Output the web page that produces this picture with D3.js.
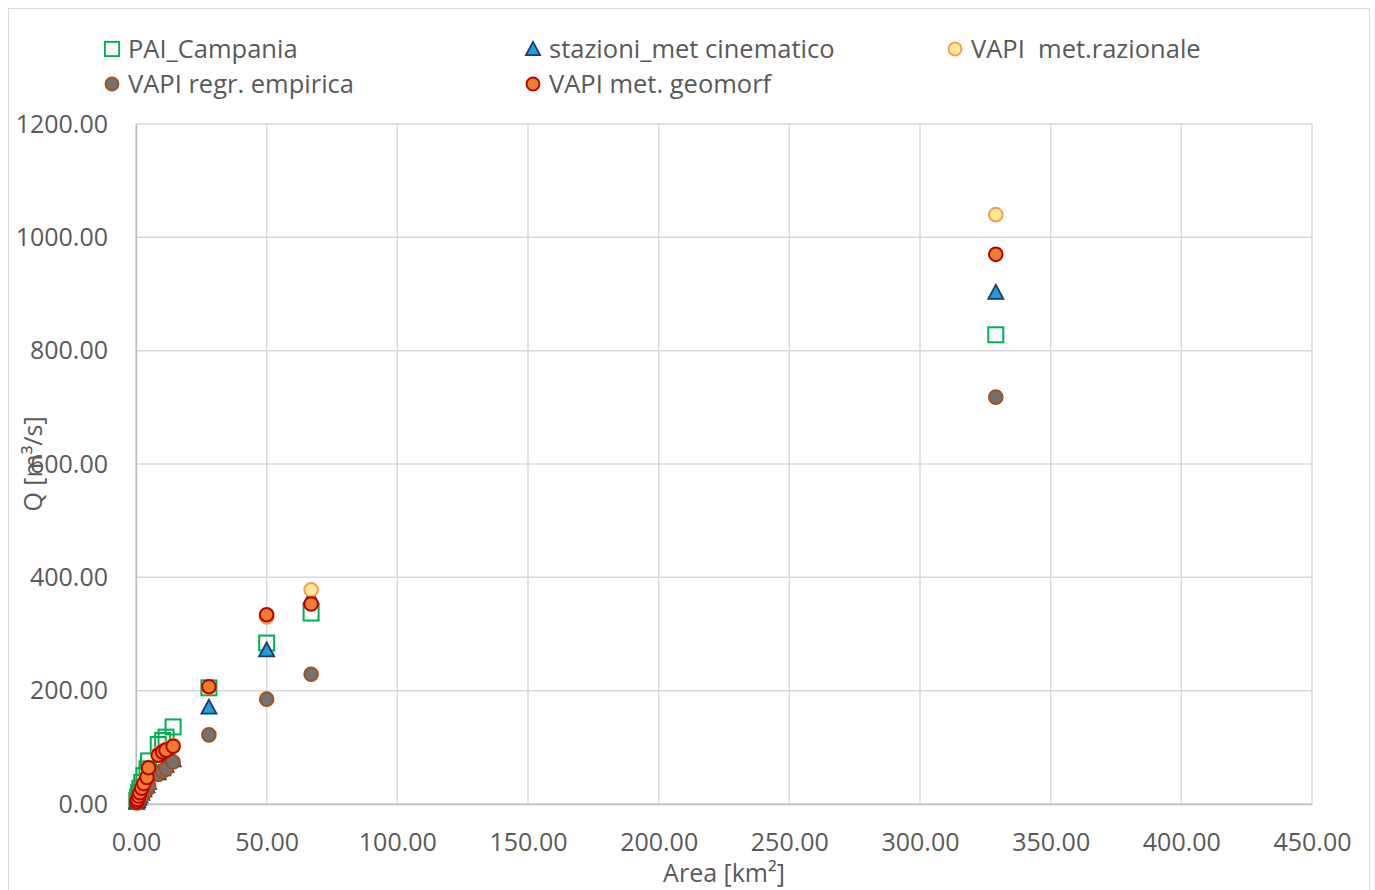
<!DOCTYPE html>
<html>
<head>
<meta charset="utf-8">
<script src="https://d3js.org/d3.v7.min.js"></script>
<style>
  body { margin: 0; background: #fff; }
  svg text { font-family: "Open Sans", sans-serif; fill: #595959; white-space: pre; }
</style>
</head>
<body>
<div id="chart"></div>
<script>
// dati
const area = [0.3, 0.6, 1.0, 1.5, 2.2, 3.0, 4.2, 4.8, 8.5, 10.2, 11.5, 14.2, 27.9, 50.0, 67.0, 329.0];
const paiCampania = [6, 12, 20, 28, 38, 50, 62, 76, 105, 112, 118, 136, 205, 284, 337, 828];
const stazioniCinematico = [3, 6, 10, 14, 19, 25, 32, 38, 55, 62, 68, 78, 171, 272, 365, 903];
const vapiRazionale = [4, 8, 14, 20, 28, 36, 48, 62, 88, 94, 97, 103, 206, 330, 378, 1040];
const vapiEmpirica = [2, 4, 7, 10, 14, 18, 25, 32, 52, 58, 62, 74, 122, 185, 229, 718];
const vapiGeomorf = [4, 8, 14, 20, 28, 36, 47, 64, 86, 92, 95, 102, 207, 334, 353, 970];
const xTicks = [0, 50, 100, 150, 200, 250, 300, 350, 400, 450];
const yTicks = [0, 200, 400, 600, 800, 1000, 1200];

const series = [
  { name: "PAI_Campania", values: paiCampania, shape: "square", fill: "none", stroke: "#00b050" },
  { name: "stazioni_met cinematico", values: stazioniCinematico, shape: "triangle", fill: "#1f9bde", stroke: "#203864" },
  { name: "VAPI  met.razionale", values: vapiRazionale, shape: "circle", fill: "#ffe699", stroke: "#f4a04a" },
  { name: "VAPI regr. empirica", values: vapiEmpirica, shape: "circle", fill: "#767171", stroke: "#a0521c" },
  { name: "VAPI met. geomorf", values: vapiGeomorf, shape: "circle", fill: "#ed7d31", stroke: "#c00000" }
];

const W = 1375, H = 890;
const margin = { top: 124, right: 63, bottom: 86, left: 136 };
const width = W - margin.left - margin.right;
const height = H - margin.top - margin.bottom;

const svg = d3.select("#chart").append("svg")
  .attr("width", W).attr("height", H);

// bordo esterno
svg.append("rect")
  .attr("x", 8.5).attr("y", 8.5).attr("width", W - 14).attr("height", H - 8)
  .attr("fill", "none").attr("stroke", "#d9d9d9");

const g = svg.append("g").attr("transform", `translate(${margin.left},${margin.top})`);

const x = d3.scaleLinear().domain([0, 450]).range([0, width]);
const y = d3.scaleLinear().domain([0, 1200]).range([height, 0]);

// griglia
g.append("g").selectAll("line").data(xTicks).enter().append("line")
  .attr("x1", d => x(d)).attr("x2", d => x(d)).attr("y1", 0).attr("y2", height)
  .attr("stroke", "#d9d9d9").attr("stroke-width", 1.5);
g.append("g").selectAll("line").data(yTicks).enter().append("line")
  .attr("x1", 0).attr("x2", width).attr("y1", d => y(d)).attr("y2", d => y(d))
  .attr("stroke", "#d9d9d9").attr("stroke-width", 1.5);

// assi
const xAxis = g.append("g").attr("transform", `translate(0,${height})`)
  .call(d3.axisBottom(x).tickValues(xTicks).tickFormat(d3.format(".2f")).tickSize(0).tickPadding(29));
xAxis.select(".domain").attr("stroke", "#bfbfbf").attr("stroke-width", 1.5);
xAxis.selectAll("text").style("font-size", "25px").attr("fill", "#595959");

const yAxis = g.append("g")
  .call(d3.axisLeft(y).tickValues(yTicks).tickFormat(d3.format(".2f")).tickSize(0).tickPadding(28));
yAxis.select(".domain").attr("stroke", "#bfbfbf").attr("stroke-width", 1.5);
yAxis.selectAll("text").style("font-size", "25px").attr("fill", "#595959");

// titoli assi
svg.append("text")
  .attr("x", margin.left + width / 2).attr("y", 882)
  .attr("text-anchor", "middle").style("font-size", "25px")
  .text("Area [km²]");
svg.append("text")
  .attr("transform", `translate(42,464) rotate(-90)`)
  .attr("text-anchor", "middle").style("font-size", "25px")
  .text("Q [m³/s]");

// simboli
function drawMarker(sel, s) {
  if (s.shape === "square") {
    sel.append("rect").attr("x", -7.5).attr("y", -7.5).attr("width", 15).attr("height", 15)
      .attr("fill", s.fill).attr("stroke", s.stroke).attr("stroke-width", 2);
  } else if (s.shape === "triangle") {
    sel.append("path").attr("d", "M0,-7.5L7.5,6.5L-7.5,6.5Z")
      .attr("fill", s.fill).attr("stroke", s.stroke).attr("stroke-width", 1.8);
  } else {
    sel.append("circle").attr("r", 6.8)
      .attr("fill", s.fill).attr("stroke", s.stroke).attr("stroke-width", 2);
  }
}

series.forEach(s => {
  const pts = g.append("g").selectAll("g").data(area.map((a, i) => [a, s.values[i]]))
    .enter().append("g")
    .attr("transform", d => `translate(${x(d[0])},${y(d[1])})`);
  pts.each(function() { drawMarker(d3.select(this), s); });
});

// legenda
const legendPos = [[112, 49], [533, 49], [955, 49], [112, 84], [533, 84]];
series.forEach((s, k) => {
  const lg = svg.append("g").attr("transform", `translate(${legendPos[k][0]},${legendPos[k][1]})`);
  const m = lg.append("g").attr("transform", "scale(0.95)");
  drawMarker(m, s);
  lg.append("text").attr("x", 16).attr("y", 9).style("font-size", "25.5px").text(s.name);
});
</script>
</body>
</html>
